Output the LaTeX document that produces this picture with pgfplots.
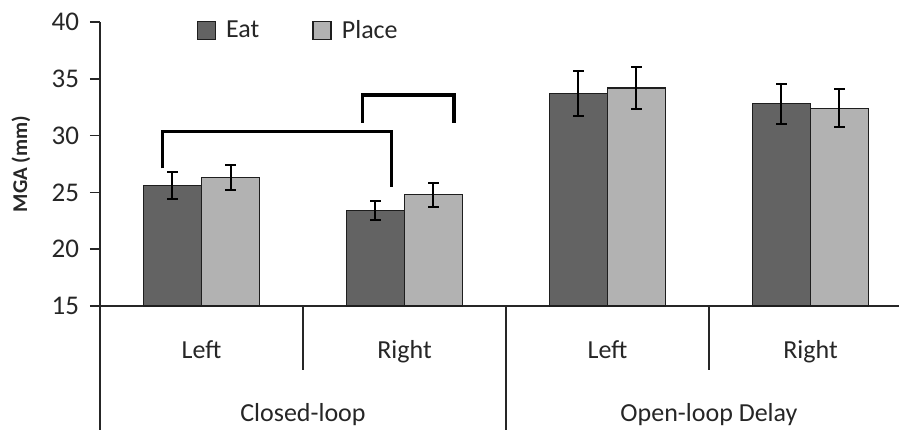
\documentclass[border=0pt]{standalone}
\usepackage{fontspec}
\setmainfont{Carlito}
\usepackage{pgfplots}
\usepackage{pgfplotstable}
\pgfplotsset{compat=1.18}
\definecolor{eatc}{HTML}{636363}
\definecolor{placec}{HTML}{B2B2B2}
\definecolor{edgec}{HTML}{1E1E1E}
\definecolor{txtc}{HTML}{262626}
\pgfplotstableread{
x y e
0 25.6 1.18
1 23.4 0.86
2 33.7 2.00
3 32.8 1.74
}\eattable
\pgfplotstableread{
x y e
0 26.3 1.13
1 24.8 1.07
2 34.2 1.88
3 32.4 1.66
}\placetable
\begin{document}
\begin{tikzpicture}
\path[use as bounding box] (-50pt,-62pt) rectangle (399.5pt,153pt);
\begin{axis}[
  scale only axis, width=399.5pt, height=142pt,
  xmin=-0.5, xmax=3.436, ymin=15, ymax=40,
  ybar=0pt, bar width=29pt,
  axis lines=left, axis line style={-, draw=txtc, line width=0.8pt},
  xtick=\empty, ytick={15,20,...,40},
  tick align=outside, major tick length=5pt,
  tick style={draw=txtc, line width=0.8pt},
  yticklabel style={font=\fontsize{13.5}{15}\selectfont, text=txtc, xshift=-2pt},
  /pgf/number format/assume math mode=true,
  ylabel={\textbf{MGA (mm)}},
  every axis y label/.style={at={(axis description cs:0,0.5)}, rotate=90, yshift=39.5pt, anchor=center, font=\fontsize{10.5}{12}\selectfont, text=txtc},
  clip=false,
  legend columns=2,
  legend image code/.code={\draw[#1, line width=0.8pt] (0pt,-4.5pt) rectangle (9pt,4.5pt); \path (12pt,0pt);},
  legend style={at={(axis description cs:0.1205,0.970)}, anchor=west, draw=none, fill=none, inner sep=0pt, font=\fontsize{13}{15}\selectfont, text=txtc, /tikz/every even column/.append style={column sep=24.5pt}},
]
\addplot[fill=eatc, draw=edgec, line width=0.7pt, bar shift=-14.5pt,
  error bars/.cd, y dir=both, y explicit,
  error bar style={line width=1pt, draw=black},
  error mark options={rotate=90, mark size=2.7pt, line width=1pt, draw=black}]
  table[x=x, y=y, y error=e] {\eattable};
\addlegendentry{Eat}
\addplot[fill=placec, draw=edgec, line width=0.7pt, bar shift=14.5pt,
  error bars/.cd, y dir=both, y explicit,
  error bar style={line width=1pt, draw=black},
  error mark options={rotate=90, mark size=2.7pt, line width=1pt, draw=black}]
  table[x=x, y=y, y error=e] {\placetable};
\addlegendentry{Place}
\addplot[sharp plot, mark=none, line width=1.6pt, black, forget plot, line join=miter]
  coordinates {(-0.193,27.12) (-0.193,30.34) (0.937,30.34) (0.937,25.5)};
\addplot[sharp plot, mark=none, line width=1.6pt, black, forget plot, line join=miter]
  coordinates {(0.792,31.14) (0.792,33.57) (1.244,33.57) (1.244,31.14)};
\draw[txtc, line width=0.8pt] (axis cs:-0.5,15) -- ++(0pt,-62pt);
\draw[txtc, line width=0.8pt] (axis cs:0.5,15) -- ++(0pt,-32pt);
\draw[txtc, line width=0.8pt] (axis cs:1.5,15) -- ++(0pt,-62pt);
\draw[txtc, line width=0.8pt] (axis cs:2.5,15) -- ++(0pt,-32pt);
\node[anchor=base, yshift=-26pt, font=\fontsize{13}{15}\selectfont, text=txtc] at (axis cs:0,15) {Left};
\node[anchor=base, yshift=-26pt, font=\fontsize{13}{15}\selectfont, text=txtc] at (axis cs:1,15) {Right};
\node[anchor=base, yshift=-26pt, font=\fontsize{13}{15}\selectfont, text=txtc] at (axis cs:2,15) {Left};
\node[anchor=base, yshift=-26pt, font=\fontsize{13}{15}\selectfont, text=txtc] at (axis cs:3,15) {Right};
\node[anchor=base, yshift=-57.8pt, font=\fontsize{13}{15}\selectfont, text=txtc] at (axis cs:0.5,15) {Closed-loop};
\node[anchor=base, yshift=-57.8pt, font=\fontsize{13}{15}\selectfont, text=txtc] at (axis cs:2.5,15) {Open-loop Delay};
\end{axis}
\end{tikzpicture}
\end{document}
